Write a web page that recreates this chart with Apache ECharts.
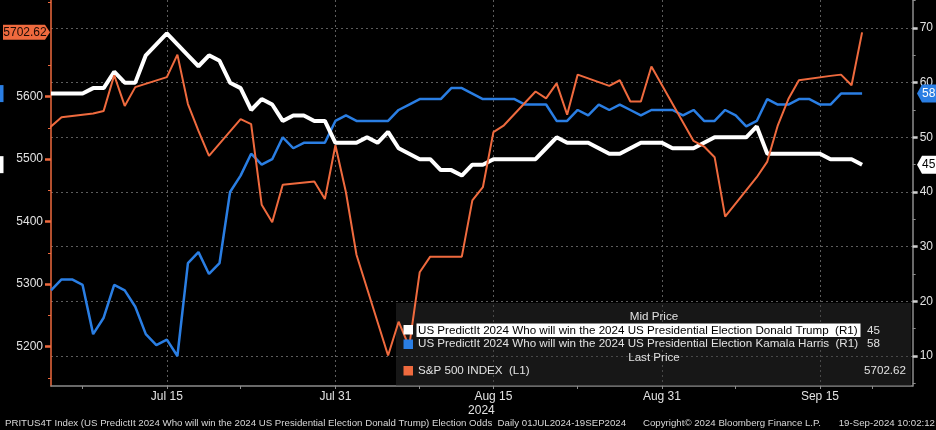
<!DOCTYPE html>
<html><head><meta charset="utf-8">
<script src="https://cdn.jsdelivr.net/npm/echarts@6/dist/echarts.min.js"></script>
<style>html,body{margin:0;padding:0;background:#000;}#c{width:936px;height:430px;}</style>
</head><body><div id="c"></div>
<script>
// ---------- DATA ----------
const baseDate = '2024-07-01';
const predictStart = '2024-07-04';   // daily PredictIt values from this date
const trumpOdds = [58,58,58,58,59,59,62,60,60,65,
  67,69,67,65,63,65,64,60,59,55,
  57,56,53,54,54,53,53,49,49,49,
  50,49,51,48,47,46,46,44,44,43,
  45,45,46,46,46,46,46,48,50,49,
  49,49,48,47,47,48,49,49,49,48,
  48,48,49,50,50,50,50,52,47,47,
  47,47,47,47,46,46,46,45];
const harrisOdds = [22,24,24,23,14,17,23,22,19,14,
  12,13,10,27,29,25,27,40,43,47,
  45,46,50,48,49,49,49,53,54,53,
  53,53,53,55,56,57,57,57,59,59,
  58,57,57,57,57,56,56,56,53,53,
  55,54,56,55,56,55,54,55,55,55,
  54,55,53,53,55,54,52,53,57,56,
  56,57,57,56,56,58,58,58];
const spDates = ['2024-07-03','2024-07-05','2024-07-08','2024-07-09','2024-07-10','2024-07-11','2024-07-12',
  '2024-07-15','2024-07-16','2024-07-17','2024-07-18','2024-07-19','2024-07-22','2024-07-23','2024-07-24',
  '2024-07-25','2024-07-26','2024-07-29','2024-07-30','2024-07-31','2024-08-01','2024-08-02','2024-08-05',
  '2024-08-06','2024-08-07','2024-08-08','2024-08-09','2024-08-12','2024-08-13','2024-08-14','2024-08-15',
  '2024-08-16','2024-08-19','2024-08-20','2024-08-21','2024-08-22','2024-08-23','2024-08-26','2024-08-27',
  '2024-08-28','2024-08-29','2024-08-30','2024-09-03','2024-09-04','2024-09-05','2024-09-06','2024-09-09',
  '2024-09-10','2024-09-11','2024-09-12','2024-09-13','2024-09-16','2024-09-17','2024-09-18','2024-09-19'];
const spValues = [5537,5567,5573,5577,5634,5585,5615,
  5631,5667,5588,5545,5505,5564,5556,5427,
  5399,5459,5464,5436,5522,5447,5347,5186,
  5240,5200,5319,5344,5344,5434,5455,5543,
  5554,5608,5597,5621,5571,5635,5617,5626,
  5592,5592,5648,5529,5520,5503,5408,5471,
  5496,5554,5596,5626,5633,5635,5618,5702.62];
const xTickDates = ['2024-07-15','2024-07-31','2024-08-15','2024-08-31','2024-09-15'];
const xTickLabels = ['Jul 15','Jul 31','Aug 15','Aug 31','Sep 15'];
const xMinorDates = ['2024-07-07','2024-07-22','2024-08-08','2024-08-23','2024-09-07','2024-09-20'];
const yearLabel = '2024';
const leftTicks = [5200,5300,5400,5500,5600];
const leftMinor = [5150,5250,5350,5450,5550,5650,5750];
const rightTicks = [10,20,30,40,50,60,70];
const rightMinor = [5,15,25,35,45,55,65,75];
const seriesNames = ['US PredictIt 2024 Who will win the 2024 US Presidential Election Donald Trump',
  'US PredictIt 2024 Who will win the 2024 US Presidential Election Kamala Harris',
  'S&P 500 INDEX'];
const footerLeft = 'PRITUS4T Index (US PredictIt 2024 Who will win the 2024 US Presidential Election Donald Trump) Election Odds  Daily 01JUL2024-19SEP2024';
const footerMid = 'Copyright\u00a9 2024 Bloomberg Finance L.P.';
const footerRight = '19-Sep-2024 10:02:12';

// ---------- BUILD ----------
const DAY = 86400000;
const dayOf = s => (Date.parse(s + 'T00:00:00Z') - Date.parse(baseDate + 'T00:00:00Z')) / DAY;
const pStart = dayOf(predictStart);
const trumpData = trumpOdds.map((v, i) => [pStart + i, v]);
const harrisData = harrisOdds.map((v, i) => [pStart + i, v]);
const spData = spDates.map((d, i) => [dayOf(d), spValues[i]]);
const xTicks = xTickDates.map(dayOf);
const xMinor = xMinorDates.map(dayOf);

const X_MIN = 3, X_MAX = 84.8;
const L_MIN = 5137.2, L_MAX = 5754.3;
const R_MIN = 4.51, R_MAX = 75.12;

const C_ORANGE = '#ef6a3e', C_BLUE = '#2a7ee3', C_WHITE = '#ffffff';
const C_AXIS = '#8c8c8c', C_GRID = '#5c5c5c', C_TEXT = '#e2e2e2';
const FONT = 'Liberation Sans';

// font size that makes a text span a given width
const mctx = document.createElement('canvas').getContext('2d');
const fitSize = (txt, width) => { mctx.font = '100px "' + FONT + '"'; return 100 * width / mctx.measureText(txt).width; };

const chart = echarts.init(document.getElementById('c'));
const option = {
  backgroundColor: '#000',
  animation: false,
  textStyle: { fontFamily: FONT },
  grid: { left: 51, right: 20, top: 0, bottom: 44, containLabel: false },
  xAxis: [{
    type: 'value', min: X_MIN, max: X_MAX,
    axisLine: { onZero: false, lineStyle: { color: C_AXIS, width: 1.5 } },
    axisTick: { customValues: xTicks, length: 3, lineStyle: { color: C_AXIS } },
    axisLabel: {
      customValues: xTicks, color: C_TEXT, fontSize: 12, margin: 4, fontFamily: FONT, lineHeight: 14,
      formatter: v => {
        const i = xTicks.indexOf(Math.round(v));
        const lab = i >= 0 ? xTickLabels[i] : '';
        return lab === 'Aug 15' ? lab + '\n{yr|' + yearLabel + '}' : lab;
      },
      rich: { yr: { color: C_TEXT, fontSize: 12, fontFamily: FONT, padding: [0, 24, 0, 0], lineHeight: 14 } }
    },
    splitLine: { show: true, lineStyle: { color: C_GRID, type: [2, 3], width: 1 } }
  }, {
    type: 'value', min: X_MIN, max: X_MAX, position: 'bottom',
    axisLine: { show: false }, axisLabel: { show: false }, splitLine: { show: false },
    axisTick: { customValues: xMinor, length: 3, lineStyle: { color: C_AXIS } }
  }],
  yAxis: [{
    type: 'value', position: 'left', min: L_MIN, max: L_MAX,
    axisLine: { show: true, onZero: false, lineStyle: { color: C_ORANGE, width: 1.5 } },
    axisTick: { show: true, customValues: leftTicks, length: 6, lineStyle: { color: C_ORANGE, width: 2.5 } },
    axisLabel: { customValues: leftTicks, color: C_TEXT, fontSize: 12, margin: 8, fontFamily: FONT, formatter: v => String(Math.round(v)) },
    splitLine: { show: false }
  }, {
    type: 'value', position: 'right', min: R_MIN, max: R_MAX,
    axisLine: { show: true, onZero: false, lineStyle: { color: C_AXIS, width: 1.5 } },
    axisTick: { show: true, customValues: rightTicks, length: 5, lineStyle: { color: '#cfcfcf', width: 2.5 } },
    axisLabel: { customValues: rightTicks, color: C_TEXT, fontSize: 12, margin: 7, fontFamily: FONT, formatter: v => String(Math.round(v)) },
    splitLine: { show: true, lineStyle: { color: C_GRID, type: [2, 3], width: 1 } }
  }, {
    type: 'value', position: 'left', min: L_MIN, max: L_MAX,
    axisLine: { show: false }, axisLabel: { show: false }, splitLine: { show: false },
    axisTick: { show: true, customValues: leftMinor, length: 3, lineStyle: { color: C_ORANGE, width: 1 } }
  }, {
    type: 'value', position: 'right', min: R_MIN, max: R_MAX,
    axisLine: { show: false }, axisLabel: { show: false }, splitLine: { show: false },
    axisTick: { show: true, customValues: rightMinor, length: 3, lineStyle: { color: C_AXIS, width: 1 } }
  }],
  series: [{
    name: seriesNames[1], type: 'line', yAxisIndex: 1, data: harrisData, showSymbol: false, symbol: 'none',
    lineStyle: { color: C_BLUE, width: 2.5 }, z: 3
  }, {
    name: seriesNames[0], type: 'line', yAxisIndex: 1, data: trumpData, showSymbol: false, symbol: 'none',
    lineStyle: { color: C_WHITE, width: 4 }, z: 4
  }, {
    name: seriesNames[2], type: 'line', yAxisIndex: 0, data: spData, showSymbol: false, symbol: 'none',
    lineStyle: { color: C_ORANGE, width: 2 }, z: 5
  }]
};
chart.setOption(option);

// ---------- TAGS, LEGEND, FOOTER ----------
const lastT = trumpOdds[trumpOdds.length - 1];
const lastH = harrisOdds[harrisOdds.length - 1];
const lastS = spValues[spValues.length - 1];
const yT = chart.convertToPixel({ yAxisIndex: 1 }, lastT);
const yH = chart.convertToPixel({ yAxisIndex: 1 }, lastH);
const yS = chart.convertToPixel({ yAxisIndex: 0 }, lastS);
const W = 936;
const rightTag = (y, fill, txtColor, txt) => ([
  { type: 'polygon', z: 20, shape: { points: [[917, y], [922, y - 9], [W, y - 9], [W, y + 9], [922, y + 9]] }, style: { fill } },
  { type: 'text', z: 21, x: 922, y: y, style: { text: txt, fill: txtColor, font: '12px ' + FONT, verticalAlign: 'middle', align: 'left' } },
  { type: 'rect', z: 20, shape: { x: 0, y: y - 8.5, width: 3.5, height: 17 }, style: { fill } }
]);
const g = [];
g.push({ type: 'polygon', z: 20, shape: { points: [[3, yS - 7.5], [45, yS - 7.5], [50, yS], [45, yS + 7.5], [3, yS + 7.5]] }, style: { fill: C_ORANGE } });
g.push({ type: 'text', z: 21, x: 25, y: yS, style: { text: String(lastS), fill: '#1d0b05', font: '12px ' + FONT, align: 'center', verticalAlign: 'middle' } });
g.push(...rightTag(yH, C_BLUE, '#ffffff', String(lastH)));
g.push(...rightTag(yT, '#ffffff', '#000000', String(lastT)));

// legend box
const LX = 396, LY = 303;
const row1 = seriesNames[0] + '  (R1)';
const lfs = fitSize(row1, 440);
const lf = lfs.toFixed(2) + 'px ' + FONT;
g.push({ type: 'rect', z: 1, shape: { x: LX, y: LY, width: 515, height: 83 }, style: { fill: 'rgba(50,50,50,0.45)' } });
g.push({ type: 'text', z: 21, x: 654, y: 317, style: { text: 'Mid Price', fill: C_TEXT, font: lf, align: 'center', verticalAlign: 'middle' } });
g.push({ type: 'rect', z: 20, shape: { x: 403.5, y: 325, width: 9.5, height: 9.5 }, style: { fill: C_WHITE } });
g.push({ type: 'rect', z: 20, shape: { x: 416.5, y: 323.5, width: 444, height: 13.5 }, style: { fill: '#ffffff' } });
g.push({ type: 'text', z: 21, x: 418, y: 330.5, style: { text: row1, fill: '#000', font: lf, verticalAlign: 'middle' } });
g.push({ type: 'text', z: 21, x: 867, y: 330.5, style: { text: String(lastT), fill: C_TEXT, font: lf, verticalAlign: 'middle' } });
g.push({ type: 'rect', z: 20, shape: { x: 403.5, y: 339.5, width: 9.5, height: 9.5 }, style: { fill: C_BLUE } });
g.push({ type: 'text', z: 21, x: 418, y: 344, style: { text: seriesNames[1] + '  (R1)', fill: C_TEXT, font: lf, verticalAlign: 'middle' } });
g.push({ type: 'text', z: 21, x: 867, y: 344, style: { text: String(lastH), fill: C_TEXT, font: lf, verticalAlign: 'middle' } });
g.push({ type: 'text', z: 21, x: 654, y: 358, style: { text: 'Last Price', fill: C_TEXT, font: lf, align: 'center', verticalAlign: 'middle' } });
g.push({ type: 'rect', z: 20, shape: { x: 403.5, y: 366, width: 9.5, height: 9.5 }, style: { fill: C_ORANGE } });
g.push({ type: 'text', z: 21, x: 418, y: 371, style: { text: seriesNames[2] + '  (L1)', fill: C_TEXT, font: lf, verticalAlign: 'middle' } });
g.push({ type: 'text', z: 21, x: 906, y: 371, style: { text: String(lastS), fill: C_TEXT, font: lf, align: 'right', verticalAlign: 'middle' } });

// footer
const ff = fitSize(footerLeft, 622).toFixed(2) + 'px ' + FONT;
g.push({ type: 'text', z: 21, x: 5, y: 423, style: { text: footerLeft, fill: '#d8d8d8', font: ff, verticalAlign: 'middle' } });
g.push({ type: 'text', z: 21, x: 643, y: 423, style: { text: footerMid, fill: '#d8d8d8', font: ff, verticalAlign: 'middle' } });
g.push({ type: 'text', z: 21, x: 935, y: 423, style: { text: footerRight, fill: '#d8d8d8', font: ff, align: 'right', verticalAlign: 'middle' } });

chart.setOption({ graphic: g });
</script>
</body></html>
